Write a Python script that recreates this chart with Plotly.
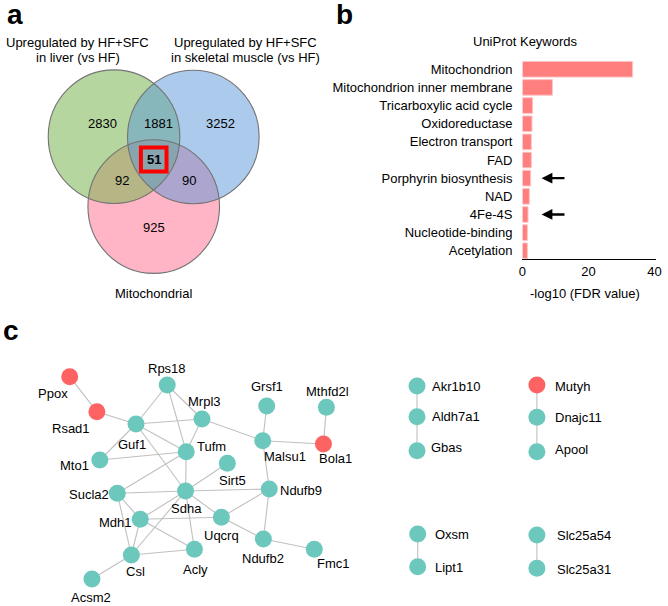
import plotly.graph_objects as go

W, H = 668, 606
FONT = "Liberation Sans, Arial, Helvetica, sans-serif"

# ---------------- Panel a: Venn data ----------------
venn_set_titles = [
    ["Upregulated by HF+SFC", "in liver (vs HF)"],
    ["Upregulated by HF+SFC", "in skeletal muscle (vs HF)"],
    ["Mitochondrial"],
]
venn_regions = ["liver", "liver&muscle", "muscle", "liver&mito", "all", "muscle&mito", "mito"]
venn_counts = [2830, 1881, 3252, 92, 51, 90, 925]

# ---------------- Panel b: bar data ----------------
keywords = ["Mitochondrion", "Mitochondrion inner membrane", "Tricarboxylic acid cycle",
            "Oxidoreductase", "Electron transport", "FAD", "Porphyrin biosynthesis",
            "NAD", "4Fe-4S", "Nucleotide-binding", "Acetylation"]
neg_log10_fdr = [33.4, 9.1, 3.1, 2.9, 2.7, 2.7, 2.5, 2.1, 1.7, 1.5, 1.5]
x_tick_values = [0, 20, 40]
highlighted_keywords = ["Porphyrin biosynthesis", "4Fe-4S"]

# ---------------- Panel c: network data ----------------
genes = ["Ppox", "Rsad1", "Rps18", "Mrpl3", "Guf1", "Tufm", "Mto1", "Sirt5", "Grsf1",
         "Malsu1", "Mthfd2l", "Bola1", "Sucla2", "Sdha", "Ndufb9", "Mdh1", "Uqcrq",
         "Ndufb2", "Fmc1", "Acly", "Csl", "Acsm2",
         "Akr1b10", "Aldh7a1", "Gbas", "Mutyh", "Dnajc11", "Apool",
         "Oxsm", "Lipt1", "Slc25a54", "Slc25a31"]
red_genes = ["Ppox", "Rsad1", "Bola1", "Mutyh"]
interactions = [
    ("Ppox", "Rsad1"), ("Rsad1", "Guf1"), ("Rps18", "Guf1"), ("Rps18", "Mrpl3"),
    ("Rps18", "Tufm"), ("Guf1", "Mrpl3"), ("Guf1", "Tufm"), ("Guf1", "Mto1"),
    ("Guf1", "Sdha"), ("Mrpl3", "Tufm"), ("Mrpl3", "Malsu1"), ("Mto1", "Tufm"),
    ("Tufm", "Sdha"), ("Tufm", "Sucla2"), ("Sirt5", "Sdha"), ("Grsf1", "Malsu1"),
    ("Malsu1", "Bola1"), ("Malsu1", "Ndufb9"), ("Mthfd2l", "Bola1"),
    ("Sucla2", "Sdha"), ("Sucla2", "Mdh1"), ("Sucla2", "Csl"), ("Sdha", "Ndufb9"),
    ("Sdha", "Uqcrq"), ("Sdha", "Mdh1"), ("Sdha", "Csl"), ("Sdha", "Acly"),
    ("Ndufb9", "Uqcrq"), ("Ndufb9", "Ndufb2"), ("Mdh1", "Uqcrq"), ("Mdh1", "Csl"),
    ("Mdh1", "Acly"), ("Uqcrq", "Ndufb2"), ("Ndufb2", "Fmc1"), ("Csl", "Acly"),
    ("Csl", "Acsm2"),
    ("Akr1b10", "Aldh7a1"), ("Aldh7a1", "Gbas"), ("Mutyh", "Dnajc11"),
    ("Dnajc11", "Apool"), ("Oxsm", "Lipt1"), ("Slc25a54", "Slc25a31"),
]

# ---------------- Layout (positions, in page pixels) ----------------
node_layout = {
    "Ppox": (66.7, 376.7), "Rsad1": (94.3, 411.7), "Rps18": (165.7, 385),
    "Mrpl3": (201, 419), "Guf1": (134, 424), "Tufm": (185, 451.7),
    "Mto1": (97.3, 460), "Sirt5": (226.7, 463.3), "Grsf1": (266.7, 406),
    "Malsu1": (262.7, 440.7), "Mthfd2l": (327.3, 407.3), "Bola1": (324.3, 444),
    "Sucla2": (115, 493.3), "Sdha": (184.3, 491), "Ndufb9": (269.3, 489),
    "Mdh1": (138.3, 519.3), "Uqcrq": (220.7, 517.3), "Ndufb2": (263.3, 539),
    "Fmc1": (315, 549.3), "Acly": (193.3, 549.3), "Csl": (129.3, 555),
    "Acsm2": (89.3, 579),
    "Akr1b10": (419.3, 386), "Aldh7a1": (419.3, 416.7), "Gbas": (419.3, 450.7),
    "Mutyh": (541, 385), "Dnajc11": (541, 417.3), "Apool": (541, 451.7),
    "Oxsm": (420, 534), "Lipt1": (420, 566.7),
    "Slc25a54": (541, 535), "Slc25a31": (541, 568.3),
}
label_layout = {
    "Ppox": (50, 393, "center"), "Rsad1": (68.3, 428.3, "center"),
    "Rps18": (165.7, 368.3, "center"), "Mrpl3": (204, 401.7, "center"),
    "Guf1": (130, 444, "center"), "Tufm": (193.5, 446.7, "left"),
    "Mto1": (71.7, 465, "center"), "Sirt5": (231.7, 480, "center"),
    "Grsf1": (266.7, 386.7, "center"), "Mthfd2l": (328.3, 391.7, "center"),
    "Malsu1": (285, 456, "center"), "Bola1": (337, 458, "center"),
    "Sucla2": (86, 494.3, "center"), "Sdha": (185, 508.3, "center"),
    "Ndufb9": (301.7, 490.7, "center"), "Mdh1": (113.3, 522.7, "center"),
    "Uqcrq": (220.7, 535, "center"), "Ndufb2": (263.3, 558.3, "center"),
    "Fmc1": (335, 563.5, "center"), "Acly": (194, 569.3, "center"),
    "Csl": (133.3, 571.7, "center"), "Acsm2": (88.3, 597.7, "center"),
    "Akr1b10": (432.7, 386, "left"), "Aldh7a1": (432.7, 416, "left"),
    "Gbas": (431.7, 447, "left"), "Mutyh": (557.3, 386.7, "left"),
    "Dnajc11": (557.3, 417.3, "left"), "Apool": (557.3, 449.3, "left"),
    "Oxsm": (435.7, 534, "left"), "Lipt1": (435.7, 567, "left"),
    "Slc25a54": (559, 535, "left"), "Slc25a31": (559, 569, "left"),
}
venn_circles = {  # name: (cx, cy, r, fill)
    "mito": (152, 206.6, 66.8, "rgba(255,120,150,0.55)"),
    "liver": (111.7, 136.7, 66.8, "rgba(120,180,80,0.55)"),
    "muscle": (192.2, 137, 66.8, "rgba(90,150,215,0.5)"),
}
venn_label_pos = {
    "liver": (100, 123), "liver&muscle": (157, 123), "muscle": (220, 123),
    "liver&mito": (119.5, 180), "all": (152, 159.5), "muscle&mito": (187.5, 180),
    "mito": (152, 227),
}
venn_title_pos = [(75, 42, 15), (245, 42, 15), (152, 293, 15)]

fig = go.Figure()

# ---------- Panel c traces ----------
ex, ey = [], []
for a, b in interactions:
    ex += [node_layout[a][0], node_layout[b][0], None]
    ey += [node_layout[a][1], node_layout[b][1], None]
fig.add_trace(go.Scatter(x=ex, y=ey, mode="lines", xaxis="x", yaxis="y",
                         line=dict(color="rgb(192,192,192)", width=1.1),
                         hoverinfo="skip", showlegend=False))
fig.add_trace(go.Scatter(
    x=[node_layout[g][0] for g in genes], y=[node_layout[g][1] for g in genes],
    mode="markers", xaxis="x", yaxis="y", text=genes, hoverinfo="text",
    marker=dict(size=17, color=["#fd6363" if g in red_genes else "#6cc8bc" for g in genes],
                line=dict(width=0)),
    showlegend=False))

# ---------- Panel b bars ----------
fig.add_trace(go.Bar(x=neg_log10_fdr, y=keywords, orientation="h", xaxis="x2", yaxis="y2",
                     marker=dict(color="#ff7f7f", line=dict(color="#ffc4c4", width=1)),
                     width=0.86, showlegend=False))

annotations = []
shapes = []

# Venn circles: fills then outlines
for name in ["mito", "liver", "muscle"]:
    cx, cy, r, fill = venn_circles[name]
    shapes.append(dict(type="circle", xref="x", yref="y", x0=cx - r, x1=cx + r,
                       y0=cy - r, y1=cy + r, fillcolor=fill, line=dict(width=0), layer="below"))
for name in ["mito", "liver", "muscle"]:
    cx, cy, r, fill = venn_circles[name]
    shapes.append(dict(type="circle", xref="x", yref="y", x0=cx - r, x1=cx + r,
                       y0=cy - r, y1=cy + r, fillcolor="rgba(0,0,0,0)",
                       line=dict(color="rgb(115,115,115)", width=1.1), layer="below"))
# highlight box around triple overlap
bx, by = venn_label_pos["all"]
shapes.append(dict(type="rect", xref="x", yref="y", x0=bx - 13, x1=bx + 13,
                   y0=by - 12, y1=by + 12, line=dict(color="#ff0000", width=4),
                   fillcolor="rgba(0,0,0,0)", layer="above"))

for reg, cnt in zip(venn_regions, venn_counts):
    x, y = venn_label_pos[reg]
    txt = f"<b>{cnt}</b>" if reg == "all" else str(cnt)
    annotations.append(dict(x=x, y=y, xref="x", yref="y", text=txt, showarrow=False,
                            font=dict(size=13, color="black", family=FONT)))
for lines, (x, y, dy) in zip(venn_set_titles, venn_title_pos):
    for i, line in enumerate(lines):
        annotations.append(dict(x=x, y=y + i * dy, xref="x", yref="y", text=line,
                                showarrow=False, font=dict(size=13, color="black", family=FONT)))

# Panel b annotations
annotations.append(dict(x=529.5, y=41.7, xref="x", yref="y", text="UniProt Keywords",
                        showarrow=False, font=dict(size=13, color="black", family=FONT)))
annotations.append(dict(x=590, y=293, xref="x", yref="y", text="-log10 (FDR value)",
                        showarrow=False, font=dict(size=13, color="black", family=FONT)))
for kw in highlighted_keywords:
    annotations.append(dict(x=5.8, y=kw, ax=13.2, ay=kw, xref="x2", yref="y2",
                            axref="x2", ayref="y2", text="", showarrow=True,
                            arrowhead=2, arrowsize=0.9, arrowwidth=2.4, arrowcolor="black"))

# Panel c labels
for g in genes:
    x, y, anc = label_layout[g]
    annotations.append(dict(x=x, y=y, xref="x", yref="y", text=g, showarrow=False,
                            xanchor=anc, yanchor="middle",
                            font=dict(size=13, color="black", family=FONT)))

# Panel letters
for letter, (x, y) in {"a": (11, 14), "b": (345.5, 14), "c": (7, 330)}.items():
    annotations.append(dict(x=x, y=y, xref="x", yref="y", text=f"<b>{letter}</b>",
                            showarrow=False, font=dict(size=28, color="black", family=FONT)))

fig.update_layout(
    width=W, height=H, margin=dict(l=0, r=0, t=0, b=0),
    paper_bgcolor="white", plot_bgcolor="rgba(0,0,0,0)",
    font=dict(family=FONT, size=13, color="black"),
    xaxis=dict(range=[0, W], domain=[0, 1], visible=False, fixedrange=True),
    yaxis=dict(range=[H, 0], domain=[0, 1], visible=False, fixedrange=True),
    xaxis2=dict(domain=[526.3 / W, 662 / W], range=[0, 40.5], anchor="y2",
                tickvals=x_tick_values, ticks="", showgrid=False, zeroline=False,
                showline=True, linecolor="black", linewidth=1.3,
                tickfont=dict(size=13, color="black")),
    yaxis2=dict(domain=[(H - 259.3) / H, (H - 60.2) / H], anchor="x2", type="category",
                range=[10.47, -0.5], ticks="", showgrid=False, zeroline=False,
                showline=False, ticklabelstandoff=9,
                tickfont=dict(size=13, color="black")),
    shapes=shapes, annotations=annotations, bargap=0.14,
)

fig.write_html("out.html", config={"displayModeBar": False},
               post_script="document.body.style.margin='0';document.body.style.overflow='hidden';")
